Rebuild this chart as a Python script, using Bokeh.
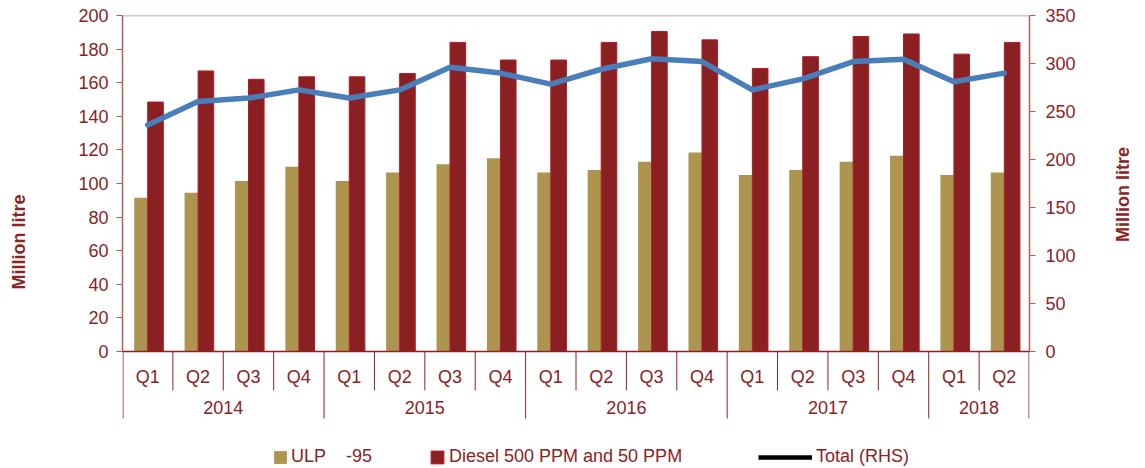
import math
from bokeh.plotting import figure
from bokeh.models import (FactorRange, Range1d, LinearAxis, FixedTicker, Span,
                          ColumnDataSource, Legend, LegendItem)
from bokeh.transform import dodge
from bokeh.core.properties import value
from bokeh.embed import file_html
from bokeh.resources import INLINE

# Quarterly fuel sales, million litres
years = ["2014", "2015", "2016", "2017", "2018"]
quarters_per_year = [4, 4, 4, 4, 2]
quarter_names = ["Q1", "Q2", "Q3", "Q4"]

ulp95 = [91.5, 94.5, 101.5, 110.0, 101.5, 106.5, 111.5, 115.0, 106.5,
         108.0, 113.0, 118.5, 105.0, 108.0, 113.0, 116.5, 105.0, 106.5]
diesel = [148.5, 167.0, 162.0, 163.5, 163.5, 165.5, 184.0, 173.5, 173.5,
          184.0, 190.5, 185.5, 168.5, 175.5, 187.5, 189.0, 177.0, 184.0]
total_rhs = [236.0, 260.5, 264.0, 272.5, 264.0, 272.5, 296.0, 290.0, 278.5,
             294.0, 305.0, 302.0, 272.5, 284.0, 302.0, 304.5, 281.0, 290.0]

left_ticks = [0, 20, 40, 60, 80, 100, 120, 140, 160, 180, 200]
right_ticks = [0, 50, 100, 150, 200, 250, 300, 350]

factors = [(y, q) for y, n in zip(years, quarters_per_year) for q in quarter_names[:n]]

TEXT = "#8B2323"
AXIS = "#B35E5E"
FONT = "Liberation Sans"

# 1.68 px per unit on the left scale, 0.96 px per unit on the right scale;
# the frame runs down past zero to hold the category labels and legend
LEFT_MIN = -117 / 1.68
RIGHT_MIN = -117 / 0.96

p = figure(width=1145, height=468,
           x_range=FactorRange(*factors, factor_padding=0, group_padding=0,
                               subgroup_padding=0, range_padding=0),
           y_range=Range1d(LEFT_MIN, 200),
           x_axis_location=None,
           output_backend="svg", toolbar_location=None,
           min_border_left=122, min_border_right=115,
           min_border_top=15, min_border_bottom=0)
p.grid.visible = False
p.outline_line_color = None
p.background_fill_color = "white"
p.border_fill_color = "white"

p.extra_y_ranges = {"rhs": Range1d(RIGHT_MIN, 350)}


def style_axis(ax, ticks, standoff):
    ax.bounds = (ticks[0], ticks[-1])
    ax.ticker = FixedTicker(ticks=ticks)
    ax.minor_tick_line_color = None
    ax.major_tick_in = 0
    ax.major_tick_out = 6
    ax.major_tick_line_color = AXIS
    ax.axis_line_color = AXIS
    ax.axis_line_width = 1.5
    ax.major_label_text_font = FONT
    ax.major_label_text_font_size = "18px"
    ax.major_label_text_color = TEXT
    ax.major_label_standoff = standoff
    ax.axis_label = "Million litre"
    ax.axis_label_text_font = FONT
    ax.axis_label_text_font_size = "18px"
    ax.axis_label_text_font_style = "bold"
    ax.axis_label_text_color = TEXT


style_axis(p.yaxis[0], left_ticks, 8)
p.yaxis[0].axis_label_standoff = 46

raxis = LinearAxis(y_range_name="rhs")
style_axis(raxis, right_ticks, 10)
raxis.axis_label_standoff = 44
# right-hand title reads bottom to top, like the left one
raxis.axis_label_orientation = math.pi / 2
p.add_layout(raxis, "right")

src = ColumnDataSource(dict(x=factors, ulp=ulp95, diesel=diesel, total=total_rhs))

r_ulp = p.vbar(x=dodge("x", -0.134, range=p.x_range), top="ulp", bottom=0,
               width=0.268, source=src, fill_color="#AD944F", line_color=None)
r_diesel = p.vbar(x=dodge("x", 0.155, range=p.x_range), top="diesel", bottom=0,
                  width=0.31, source=src, fill_color="#8B2022",
                  line_color="#B01C28", line_width=1)
p.line(x="x", y="total", source=src, y_range_name="rhs",
       line_color="#4A7EBB", line_width=5.5, line_join="round", line_cap="round")

# frame top edge and zero baseline
p.add_layout(Span(location=200, dimension="width", line_color="#C08585", line_width=1.5))
p.add_layout(Span(location=0, dimension="width", line_color=TEXT, line_width=1.5))

# separators between quarters and between years
n_total = len(factors)
year_edges = [0]
for n in quarters_per_year:
    year_edges.append(year_edges[-1] + n)
inner_q = [i for i in range(1, n_total) if i not in year_edges]
p.segment(x0=inner_q, x1=inner_q, y0=[0] * len(inner_q), y1=[-23.2] * len(inner_q),
          line_color=TEXT, line_width=1)
inner_y = year_edges[1:-1]
p.segment(x0=inner_y, x1=inner_y, y0=[0] * len(inner_y), y1=[-39.9] * len(inner_y),
          line_color=TEXT, line_width=1)
outer = [year_edges[0], year_edges[-1]]
p.segment(x0=outer, x1=outer, y0=[0, 0], y1=[-39.9, -39.9],
          line_color="#CC9090", line_width=3)

# category labels
p.text(x=factors, y=[-15.3] * n_total, text=[q for _, q in factors],
       text_font=value(FONT), text_font_size="18px", text_color=TEXT,
       text_align="center", text_baseline="middle")
year_mid = [(a + b) / 2 for a, b in zip(year_edges[:-1], year_edges[1:])]
p.text(x=year_mid, y=[-33.2] * len(years), text=years,
       text_font=value(FONT), text_font_size="18px", text_color=TEXT,
       text_align="center", text_baseline="middle")

# legend key for the total series: a black line sample
key_src = ColumnDataSource(dict(x=[factors[0]], y=[float("nan")]))
r_total_key = p.line(x="x", y="y", source=key_src, line_color="black", line_width=4.5)


def make_legend(label, renderer, x, glyph_width, standoff):
    return Legend(items=[LegendItem(label=label, renderers=[renderer])],
                  location=(x, 1), orientation="horizontal",
                  padding=0, margin=0, spacing=0,
                  border_line_color=None, background_fill_alpha=0,
                  glyph_width=glyph_width, glyph_height=16, label_height=20,
                  label_standoff=standoff,
                  label_text_font=FONT, label_text_font_size="18px",
                  label_text_color=TEXT)


p.add_layout(make_legend("ULP\u00a0\u00a0\u00a0\u00a0-95", r_ulp, 150, 16, 3), "center")
p.add_layout(make_legend("Diesel 500 PPM and 50 PPM", r_diesel, 307, 16, 4), "center")
p.add_layout(make_legend("Total (RHS)", r_total_key, 636, 54, 4), "center")

open("out.html", "w").write(file_html(p, INLINE))
